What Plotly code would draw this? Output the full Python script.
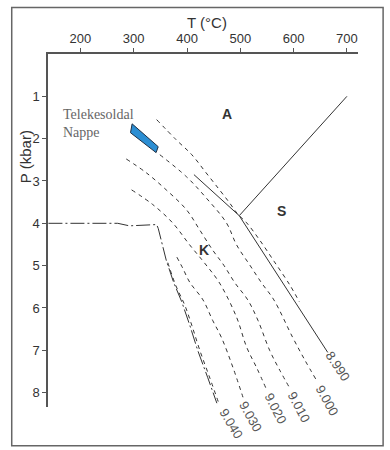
import plotly.graph_objects as go

# ---------------- data (T in °C, P in kbar) ----------------
chain_T = [140, 270, 292, 343, 346, 361, 375, 390, 405, 420, 439, 456]
chain_P = [4.0, 4.0, 4.06, 4.03, 4.12, 4.87, 5.4, 5.85, 6.4, 7.0, 7.65, 8.25]

iso_labels = ["8.990", "9.000", "9.010", "9.020", "9.030", "9.040"]
iso_T = [
    [343, 380, 409, 436, 461, 480, 495, 512, 536, 564, 593, 611],
    [349, 399, 436, 474, 493, 518, 540, 563, 598, 621, 643],
    [286, 324, 361, 399, 424, 448, 469, 490, 514, 533, 555, 574, 593],
    [296, 336, 373, 405, 433, 461, 493, 512, 531, 550],
    [381, 392, 405, 430, 448, 465, 486, 505],
    [364, 379, 396, 409, 424, 443, 461],
]
iso_P = [
    [1.55, 2.03, 2.38, 2.81, 3.21, 3.52, 3.78, 3.99, 4.39, 4.91, 5.46, 5.86],
    [2.38, 2.90, 3.40, 3.99, 4.51, 4.99, 5.41, 5.81, 6.69, 7.23, 7.71],
    [2.48, 2.81, 3.21, 3.68, 4.16, 4.63, 4.99, 5.41, 5.81, 6.29, 7.0, 7.47, 7.90],
    [3.21, 3.56, 3.99, 4.51, 4.94, 5.41, 6.22, 6.93, 7.42, 7.95],
    [4.80, 5.06, 5.39, 5.81, 6.29, 6.71, 7.40, 8.11],
    [4.93, 5.47, 5.94, 6.41, 7.0, 7.66, 8.30],
]
# label positions (centre of rotated label, in T / P units)
lab_T = [683, 663, 611, 566, 519, 483]
lab_P = [7.39, 8.18, 8.34, 8.38, 8.57, 8.73]
lab_angle = [56, 61, 62, 63, 61, 59]

# Al2SiO5 reaction lines (triple point at ~498 °C, 3.82 kbar)
ak_T = [413, 498]
ak_P = [2.85, 3.82]
as_T = [498, 700]
as_P = [3.82, 1.0]
ks_T = [498, 664]
ks_P = [3.82, 7.05]

box_T = [297, 294, 342, 346, 297]
box_P = [1.65, 1.86, 2.33, 2.19, 1.65]

fields = ["A", "S", "K"]
field_T = [475, 577, 431]
field_P = [1.41, 3.72, 4.63]

x_ticks = [200, 300, 400, 500, 600, 700]
y_ticks = [1, 2, 3, 4, 5, 6, 7, 8]

T_RANGE = [139.2, 720.8]
P_RANGE = [8.34, 0]

# ---------------- figure ----------------
fig = go.Figure()
line_col = "#333333"

fig.add_trace(go.Scatter(x=chain_T, y=chain_P, mode="lines",
                         line=dict(color=line_col, width=1, dash="14px,3px,2px,3px"),
                         hoverinfo="skip", showlegend=False))
for t, p in zip(iso_T, iso_P):
    fig.add_trace(go.Scatter(x=t, y=p, mode="lines", line_shape="spline",
                             line=dict(color=line_col, width=1, dash="4px,4px"),
                             hoverinfo="skip", showlegend=False))
for t, p in [(ak_T, ak_P), (as_T, as_P), (ks_T, ks_P)]:
    fig.add_trace(go.Scatter(x=t, y=p, mode="lines",
                             line=dict(color=line_col, width=1),
                             hoverinfo="skip", showlegend=False))
fig.add_trace(go.Scatter(x=box_T, y=box_P, mode="lines", fill="toself",
                         fillcolor="#2B8ED3", line=dict(color="#1d2f44", width=1),
                         hoverinfo="skip", showlegend=False))


def to_paper_x(t):
    return (t - T_RANGE[0]) / (T_RANGE[1] - T_RANGE[0])


def to_paper_y(p):
    return (P_RANGE[0] - p) / (P_RANGE[0] - P_RANGE[1])


ann = []
for lab, t, p, a in zip(iso_labels, lab_T, lab_P, lab_angle):
    ann.append(dict(x=to_paper_x(t), y=to_paper_y(p), xref="paper", yref="paper",
                    text=lab, showarrow=False,
                    textangle=a, xanchor="center", yanchor="middle",
                    font=dict(family="Liberation Sans, Arial", size=13, color="#555555")))
for lab, t, p in zip(fields, field_T, field_P):
    ann.append(dict(x=t, y=p, xref="x", yref="y", text="<b>%s</b>" % lab, showarrow=False,
                    xanchor="center", yanchor="middle",
                    font=dict(family="Liberation Sans, Arial", size=14, color="#333333")))
ann.append(dict(x=163, y=1.2, xref="x", yref="y", text="Telekesoldal<br>Nappe",
                showarrow=False, xanchor="left", yanchor="top", align="left",
                font=dict(family="Liberation Serif, serif", size=14, color="#666666")))
ann.append(dict(x=0.512, y=1.089, xref="paper", yref="paper", text="T (°C)",
                showarrow=False, xanchor="center", yanchor="middle",
                font=dict(family="Liberation Sans, Arial", size=15, color="#333333")))
ann.append(dict(x=-0.074, y=0.708, xref="paper", yref="paper", text="P (kbar)",
                showarrow=False, xanchor="center", yanchor="middle", textangle=-90,
                font=dict(family="Liberation Sans, Arial", size=15, color="#333333")))

fig.update_layout(
    width=390, height=450,
    margin=dict(l=48, r=32, t=54, b=43),
    paper_bgcolor="white", plot_bgcolor="white",
    annotations=ann,
    shapes=[dict(type="rect", xref="paper", yref="paper",
                 x0=-0.117, x1=1.081, y0=-0.110, y1=1.132,
                 line=dict(color="#666666", width=1.5))],
    xaxis=dict(side="top", range=T_RANGE, tickvals=x_ticks,
               showgrid=False, zeroline=False, showline=True, linecolor="#555555",
               linewidth=1.5, ticks="outside", ticklen=4, tickcolor="#555555",
               tickfont=dict(family="Liberation Sans, Arial", size=13, color="#333333")),
    yaxis=dict(range=P_RANGE, tickvals=y_ticks,
               showgrid=False, zeroline=False, showline=True, linecolor="#555555",
               linewidth=1.5, ticks="outside", ticklen=4, tickcolor="#555555",
               tickfont=dict(family="Liberation Sans, Arial", size=13, color="#333333")),
)

fig.write_html("out.html", config={"displayModeBar": False},
               post_script="document.body.style.margin='0';document.body.style.overflow='hidden';")
